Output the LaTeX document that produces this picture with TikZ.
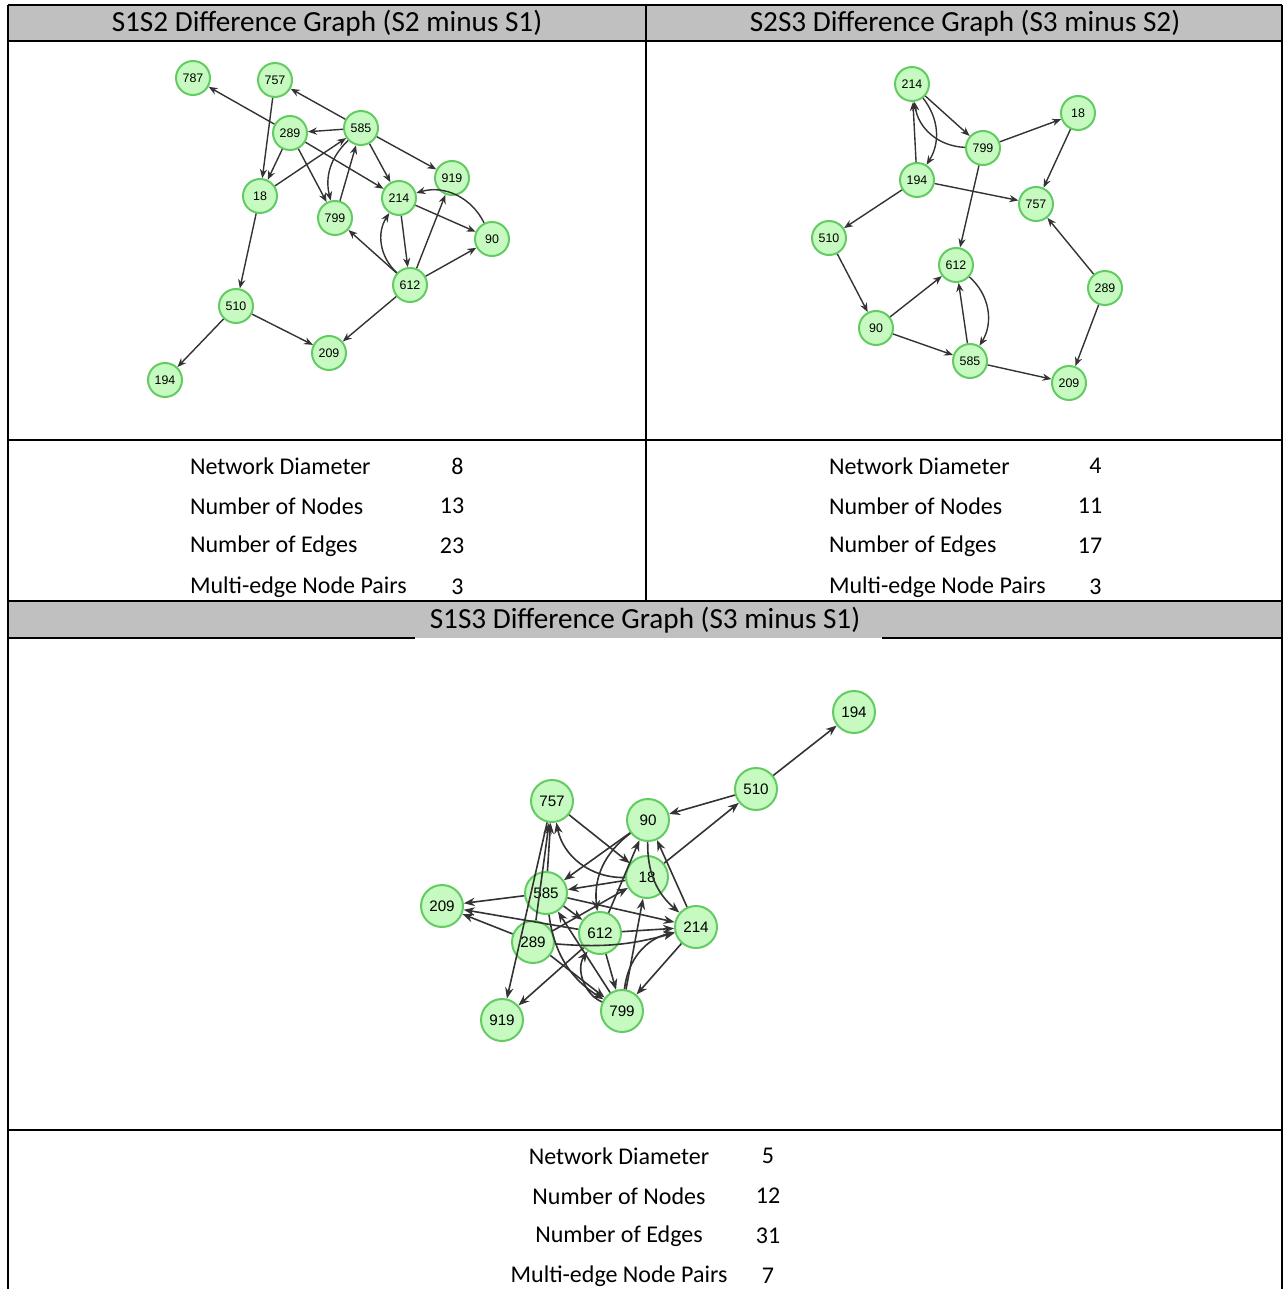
\documentclass[tikz,border=0pt]{standalone}
\usepackage{fontspec}
\setmainfont{Carlito}
\newfontfamily\vtxfont{Liberation Sans}
\usetikzlibrary{arrows.meta}
\definecolor{vtxfill}{RGB}{198,250,192}
\definecolor{vtxline}{RGB}{98,204,98}
\definecolor{headgray}{RGB}{192,192,192}
\tikzset{
  vtx/.style={circle,draw=vtxline,fill=vtxfill,line width=1pt,minimum size=17pt,inner sep=0pt,
    font=\vtxfont\fontsize{6.2}{7}\selectfont},
  bigvtx/.style={vtx,minimum size=21pt,font=\vtxfont\fontsize{7.6}{8}\selectfont},
  edge/.style={draw=black!80,line width=0.7pt,-{Stealth[length=4.5pt,width=3.6pt]}},
  bigedge/.style={edge,line width=0.8pt,-{Stealth[length=5.5pt,width=4.2pt]}},
  rule/.style={line width=1pt},
  title/.style={font=\fontsize{14.6}{16}\selectfont},
  stat/.style={font=\fontsize{12}{14}\selectfont},
}
\begin{document}
\begin{tikzpicture}[x=0.5pt,y=-0.5pt]
\useasboundingbox (0,0) rectangle (1283,1289);
% table
\fill[headgray] (8,5) rectangle (1282,41);
\fill[headgray] (8,602) rectangle (1282,638);
\draw[rule] (8,5)--(1282,5);
\draw[rule] (8,41)--(1282,41);
\draw[rule] (8,440)--(1282,440);
\draw[rule] (8,601)--(1282,601);
\draw[rule] (8,638)--(415,638);
\draw[rule] (882,638)--(1282,638);
\draw[rule] (8,1130)--(1282,1130);
\draw[rule] (8,5)--(8,1289);
\draw[rule] (1282,5)--(1282,1289);
\draw[line width=0.8pt] (646,5)--(646,601);
\node[title] (t12) at (327,23) {S1S2 Difference Graph (S2 minus S1)};
\node[title] (t23) at (965,23) {S2S3 Difference Graph (S3 minus S2)};
\node[title] (t13) at (645,620) {S1S3 Difference Graph (S3 minus S1)};
% stats S1S2
\node[stat,anchor=west] (l1a) at (183,466) {Network Diameter};
\node[stat,anchor=west] (l1b) at (183,506) {Number of Nodes};
\node[stat,anchor=west] (l1c) at (183,546) {Number of Edges};
\node[stat,anchor=west] (l1d) at (183,587) {Multi-edge Node Pairs};
\node[stat] (v1a) at (452,466) {\ \ 8};
\node[stat] (v1b) at (452,506) {13};
\node[stat] (v1c) at (452,546) {23};
\node[stat] (v1d) at (452,587) {\ \ 3};
% stats S2S3
\node[stat,anchor=west] (l2a) at (822,466) {Network Diameter};
\node[stat,anchor=west] (l2b) at (822,506) {Number of Nodes};
\node[stat,anchor=west] (l2c) at (822,546) {Number of Edges};
\node[stat,anchor=west] (l2d) at (822,587) {Multi-edge Node Pairs};
\node[stat] (v2a) at (1090,466) {\ \ 4};
\node[stat] (v2b) at (1090,506) {11};
\node[stat] (v2c) at (1090,546) {17};
\node[stat] (v2d) at (1090,587) {\ \ 3};
% stats S1S3
\node[stat] (l3a) at (619,1156) {Network Diameter};
\node[stat] (l3b) at (619,1196) {Number of Nodes};
\node[stat] (l3c) at (619,1236) {Number of Edges};
\node[stat] (l3d) at (619,1276) {Multi-edge Node Pairs};
\node[stat] (v3a) at (768,1156) {5};
\node[stat] (v3b) at (768,1196) {12};
\node[stat] (v3c) at (768,1236) {31};
\node[stat] (v3d) at (768,1276) {7};
% graph S1S2
\node[vtx] (a787) at (193,78) {787};
\node[vtx] (a757) at (275,80) {757};
\node[vtx] (a289) at (290,133) {289};
\node[vtx] (a585) at (361,128) {585};
\node[vtx] (a18) at (260,196) {18};
\node[vtx] (a799) at (335,218) {799};
\node[vtx] (a214) at (399,198) {214};
\node[vtx] (a919) at (452,178) {919};
\node[vtx] (a90) at (492,239) {90};
\node[vtx] (a612) at (410,285) {612};
\node[vtx] (a510) at (236,306) {510};
\node[vtx] (a209) at (329,353) {209};
\node[vtx] (a194) at (165,380) {194};
\draw[edge] (a289)--(a787);
\draw[edge] (a585)--(a757);
\draw[edge] (a585)--(a289);
\draw[edge] (a757)--(a18);
\draw[edge] (a289)--(a18);
\draw[edge] (a18)--(a585);
\draw[edge] (a289)--(a799);
\draw[edge] (a289)--(a214);
\draw[edge] (a585) to[bend right=30] (a799);
\draw[edge] (a799)--(a585);
\draw[edge] (a585)--(a214);
\draw[edge] (a585)--(a919);
\draw[edge] (a214)--(a90);
\draw[edge] (a90) to[bend right=40] (a214);
\draw[edge] (a214)--(a612);
\draw[edge] (a612) to[bend left=40] (a214);
\draw[edge] (a612)--(a799);
\draw[edge] (a612)--(a919);
\draw[edge] (a612)--(a90);
\draw[edge] (a612)--(a209);
\draw[edge] (a18)--(a510);
\draw[edge] (a510)--(a209);
\draw[edge] (a510)--(a194);
% graph S2S3
\node[vtx] (b214) at (912,84) {214};
\node[vtx] (b18) at (1078,113) {18};
\node[vtx] (b799) at (983,148) {799};
\node[vtx] (b194) at (917,180) {194};
\node[vtx] (b757) at (1036,204) {757};
\node[vtx] (b510) at (829,238) {510};
\node[vtx] (b612) at (956,265) {612};
\node[vtx] (b289) at (1105,288) {289};
\node[vtx] (b90) at (876,328) {90};
\node[vtx] (b585) at (970,361) {585};
\node[vtx] (b209) at (1069,383) {209};
\draw[edge] (b214)--(b799);
\draw[edge] (b214) to[bend left=35] (b194);
\draw[edge] (b194)--(b214);
\draw[edge] (b799) to[bend left=40] (b214);
\draw[edge] (b799)--(b18);
\draw[edge] (b18)--(b757);
\draw[edge] (b194)--(b757);
\draw[edge] (b194)--(b510);
\draw[edge] (b799)--(b612);
\draw[edge] (b510)--(b90);
\draw[edge] (b90)--(b612);
\draw[edge] (b90)--(b585);
\draw[edge] (b585)--(b612);
\draw[edge] (b612) to[bend left=40] (b585);
\draw[edge] (b585)--(b209);
\draw[edge] (b289)--(b757);
\draw[edge] (b289)--(b209);
% graph S1S3
\node[bigvtx] (c194) at (854,712) {194};
\node[bigvtx] (c510) at (756,789) {510};
\node[bigvtx] (c90) at (648,820) {90};
\node[bigvtx] (c757) at (552,801) {757};
\node[bigvtx] (c18) at (647,877) {18};
\node[bigvtx] (c585) at (546,893) {585};
\node[bigvtx] (c209) at (442,906) {209};
\node[bigvtx] (c289) at (533,942) {289};
\node[bigvtx] (c612) at (600,933) {612};
\node[bigvtx] (c214) at (696,927) {214};
\node[bigvtx] (c799) at (622,1011) {799};
\node[bigvtx] (c919) at (502,1020) {919};
\draw[bigedge] (c510)--(c194);
\draw[bigedge] (c510)--(c90);
\draw[bigedge] (c18)--(c510);
\draw[bigedge] (c757)--(c18);
\draw[bigedge] (c18) to[bend left=40] (c757);
\draw[bigedge] (c90)--(c585);
\draw[bigedge] (c90) to[bend right=30] (c612);
\draw[bigedge] (c90) to[bend right=25] (c214);
\draw[bigedge] (c214)--(c90);
\draw[bigedge] (c18)--(c585);
\draw[bigedge] (c612)--(c90);
\draw[bigedge] (c585)--(c209);
\draw[bigedge] (c289)--(c209);
\draw[bigedge] (c612)--(c209);
\draw[bigedge] (c585)--(c214);
\draw[bigedge] (c585)--(c612);
\draw[bigedge] (c289)--(c18);
\draw[bigedge] (c612)--(c214);
\draw[bigedge] (c289) to[bend right=10] (c214);
\draw[bigedge] (c799) to[bend left=35] (c214);
\draw[bigedge] (c799)--(c18);
\draw[bigedge] (c214)--(c799);
\draw[bigedge] (c612)--(c799);
\draw[bigedge] (c799)--(c585);
\draw[bigedge] (c585) to[bend right=25] (c799);
\draw[bigedge] (c289)--(c799);
\draw[bigedge] (c612)--(c919);
\draw[bigedge] (c757)--(c919);
\draw[bigedge] (c799) to[bend left=50] (c612);
\draw[bigedge] (c585)--(c757);
\draw[bigedge] (c289)--(c757);
\end{tikzpicture}
\end{document}
